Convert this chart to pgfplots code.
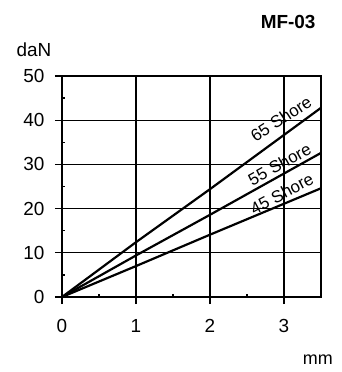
\documentclass[border=0pt]{standalone}
\usepackage{pgfplots}
\pgfplotsset{compat=1.18}
\usepackage{fontspec}
\setmainfont{Liberation Sans}
\begin{document}
\begin{tikzpicture}
\useasboundingbox (-62bp,-75bp) rectangle (280bp,297bp);
\begin{axis}[
  at={(0,0)}, anchor=south west,
  scale only axis, width=259bp, height=221bp,
  xmin=0, xmax=3.5, ymin=0, ymax=50,
  xtick={0,1,2,3}, ytick={0,10,20,30,40,50},
  minor xtick={0.5,1.5,2.5}, minor ytick={5,15,25,35,45},
  grid=major, major grid style={black, line width=1.3pt},
  axis line style={black, line width=1.3pt},
  tick style={black, line width=1.3pt},
  tick align=inside, major tick length=7bp, minor tick length=3.5bp,
  major x tick style={yshift=-7bp}, major y tick style={xshift=-7bp},
  xtick pos=bottom, ytick pos=left,
  /pgf/number format/assume math mode=true,
  ticklabel style={font=\fontsize{19}{22}\selectfont},
  xticklabel style={yshift=-19bp},
  yticklabel style={xshift=-14bp},
  clip=false,
]
\addplot[black, line width=2.2pt] coordinates {(0,0) (1,12.4) (2,24.4) (3.5,42.8)};
\addplot[black, line width=2.2pt] coordinates {(0,0) (1,9.4) (2,18.6) (3.5,32.6)};
\addplot[black, line width=2.2pt] coordinates {(0,0) (1,7.0) (2,14.1) (3.5,24.6)};
\node[rotate=33, font=\fontsize{17}{20}\selectfont] at (axis cs:2.96,40.3) {65 Shore};
\node[rotate=29, font=\fontsize{17}{20}\selectfont] at (axis cs:2.94,30.0) {55 Shore};
\node[rotate=28, font=\fontsize{17}{20}\selectfont] at (axis cs:2.97,23.4) {45 Shore};
\node[font=\fontsize{19}{22}\selectfont] at (axis description cs:-0.108,1.118) {daN};
\node[font=\fontsize{18}{21}\selectfont] at (axis description cs:0.988,-0.285) {mm};
\node[font=\bfseries\fontsize{19}{22}\selectfont] at (axis description cs:0.873,1.244) {MF-03};
\end{axis}
\end{tikzpicture}
\end{document}
